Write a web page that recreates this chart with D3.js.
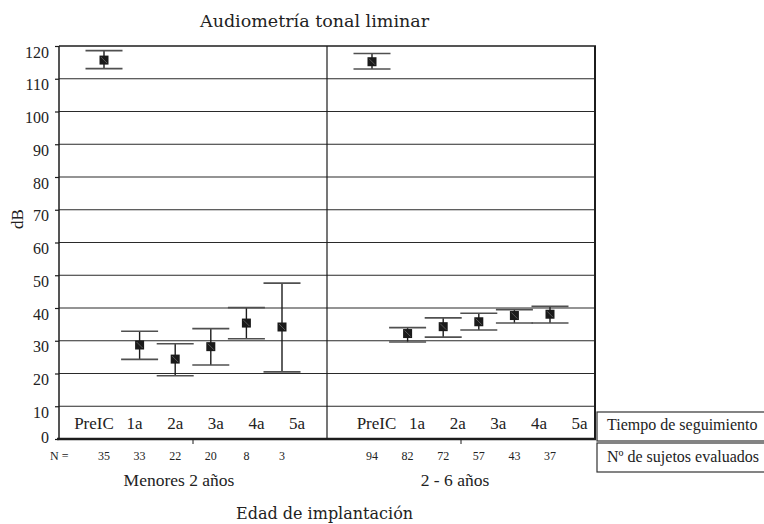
<!DOCTYPE html>
<html><head><meta charset="utf-8">
<script src="https://cdn.jsdelivr.net/npm/d3@7"></script>
<style>body{margin:0;background:#fff} svg{display:block}</style>
</head><body><svg id="c" width="764" height="524"></svg>
<script>
// ---------- data ----------
const categories = ["PreIC", "1a", "2a", "3a", "4a", "5a"];
const groups = ["Menores 2 años", "2 - 6 años"];
const meanMenores  = [115.7, 28.7, 24.4, 28.2, 35.4, 34.2];
const upperMenores = [118.6, 32.9, 29.1, 33.7, 40.1, 47.6];
const lowerMenores = [113.1, 24.3, 19.3, 22.6, 30.6, 20.5];
const nMenores     = [35, 33, 22, 20, 8, 3];
const meanMayores  = [115.2, 32.2, 34.3, 35.8, 37.7, 38.1];
const upperMayores = [117.7, 34.0, 37.0, 38.4, 39.5, 40.5];
const lowerMayores = [113.0, 29.6, 31.1, 33.3, 35.4, 35.4];
const nMayores     = [94, 82, 72, 57, 43, 37];
const yTicks = [0, 10, 20, 30, 40, 50, 60, 70, 80, 90, 100, 110, 120];
const titleText = "Audiometría tonal liminar";
const yLabel = "dB";
const xTitle = "Edad de implantación";
const nPrefix = "N =";
const legendLabels = ["Tiempo de seguimiento", "Nº de sujetos evaluados"];

const series = [
  {group: groups[0], mean: meanMenores, upper: upperMenores, lower: lowerMenores, n: nMenores},
  {group: groups[1], mean: meanMayores, upper: upperMayores, lower: lowerMayores, n: nMayores}
];

// ---------- layout ----------
const L = 59, R = 595, T = 46, B = 439;
const ink = "#1c1c1c";
const serif = "'Liberation Serif', 'Times New Roman', serif";
const wide = "'DejaVu Serif', serif";
const labelInset = [35, 49.5];
const labelSpan = 203;
const groupLabelShift = [-14, -6];

const svg = d3.select("#c");
const y = d3.scaleLinear().domain([0, 120]).range([B, T]);
const xg = d3.scaleBand().domain(groups).range([L, R]);
const xp = d3.scalePoint().domain(categories).range([45, 223]);
const xl = d3.scalePoint().domain(categories).range([0, labelSpan]);

// gridlines
svg.append("g").selectAll("line")
  .data(yTicks.filter(t => t > 0 && t < 120))
  .join("line")
  .attr("x1", L).attr("x2", R)
  .attr("y1", d => y(d)).attr("y2", d => y(d))
  .attr("stroke", "#2a2a2a").attr("stroke-width", 1.2);

// y axis
const yAxis = svg.append("g").attr("transform", `translate(${L},0)`)
  .call(d3.axisLeft(y).tickValues(yTicks).tickSizeInner(4).tickSizeOuter(0).tickPadding(6));
yAxis.select(".domain").remove();
yAxis.selectAll(".tick line").attr("stroke", ink).attr("stroke-width", 1.2);
yAxis.selectAll(".tick text")
  .attr("font-family", serif).attr("font-size", 16).attr("fill", "#222")
  .attr("dy", d => d === 0 ? "0.2em" : "0.7em");

// frame
svg.append("line").attr("x1", L).attr("x2", L).attr("y1", T).attr("y2", B)
  .attr("stroke", ink).attr("stroke-width", 1.5);
svg.append("line").attr("x1", L).attr("x2", R + 1).attr("y1", T).attr("y2", T)
  .attr("stroke", ink).attr("stroke-width", 1.6);
svg.append("line").attr("x1", R).attr("x2", R).attr("y1", T).attr("y2", B)
  .attr("stroke", ink).attr("stroke-width", 2);
svg.append("line").attr("x1", L - 2).attr("x2", R + 1).attr("y1", B).attr("y2", B)
  .attr("stroke", ink).attr("stroke-width", 2.6);
svg.append("line").attr("x1", xg(groups[1])).attr("x2", xg(groups[1]))
  .attr("y1", T).attr("y2", B).attr("stroke", ink).attr("stroke-width", 1.2);
svg.append("g").selectAll("line").data(groups).join("line")
  .attr("x1", d => xg(d) + xg.bandwidth() / 2).attr("x2", d => xg(d) + xg.bandwidth() / 2)
  .attr("y1", B).attr("y2", B + 5).attr("stroke", ink).attr("stroke-width", 1);

// title
svg.append("text").attr("x", 200).attr("y", 27).text(titleText)
  .attr("font-family", wide).attr("font-size", 17.5).attr("fill", "#222");
// y label
svg.append("text").attr("transform", `translate(23,219) rotate(-90)`)
  .attr("text-anchor", "middle").text(yLabel)
  .attr("font-family", serif).attr("font-size", 17).attr("fill", "#222");

series.forEach((s, gi) => {
  const g = svg.append("g");
  const gx = xg(s.group);
  g.append("g").selectAll("text").data(categories).join("text")
    .attr("x", d => gx + labelInset[gi] + xl(d)).attr("y", 429)
    .attr("text-anchor", "middle").text(d => d)
    .attr("font-family", serif).attr("font-size", 17).attr("fill", "#222");
  const pts = categories.map((c, i) => ({c, m: s.mean[i], u: s.upper[i], l: s.lower[i], n: s.n[i]}));
  g.append("g").selectAll("line").data(pts).join("line")
    .attr("x1", d => gx + xp(d.c)).attr("x2", d => gx + xp(d.c))
    .attr("y1", d => y(d.u)).attr("y2", d => y(d.l))
    .attr("stroke", ink).attr("stroke-width", 1.4);
  ["u", "l"].forEach(k => {
    g.append("g").selectAll("line").data(pts).join("line")
      .attr("x1", d => gx + xp(d.c) - 18.5).attr("x2", d => gx + xp(d.c) + 18.5)
      .attr("y1", d => y(d[k])).attr("y2", d => y(d[k]))
      .attr("stroke", "#505050").attr("stroke-width", 1.6);
  });
  g.append("g").selectAll("rect").data(pts).join("rect")
    .attr("x", d => gx + xp(d.c) - 4.5).attr("y", d => y(d.m) - 4.5)
    .attr("width", 9).attr("height", 9).attr("fill", "#1a1a1a");
  g.append("g").selectAll("line").data(pts).join("line")
    .attr("x1", d => gx + xp(d.c) - 3).attr("x2", d => gx + xp(d.c) + 3)
    .attr("y1", d => y(d.m) - 3).attr("y2", d => y(d.m) + 3)
    .attr("stroke", "#666").attr("stroke-width", 0.8);
  g.append("g").selectAll("text").data(pts).join("text")
    .attr("x", d => gx + xp(d.c)).attr("y", 460).attr("text-anchor", "middle")
    .text(d => d.n)
    .attr("font-family", serif).attr("font-size", 12).attr("fill", "#222");
  g.append("text").attr("x", gx + xg.bandwidth() / 2 + groupLabelShift[gi]).attr("y", 486)
    .attr("text-anchor", "middle").text(s.group)
    .attr("font-family", serif).attr("font-size", 17.5).attr("fill", "#222");
});

svg.append("text").attr("x", 50).attr("y", 460).text(nPrefix)
  .attr("font-family", serif).attr("font-size", 12).attr("fill", "#222");

svg.append("text").attr("x", 236).attr("y", 519).text(xTitle)
  .attr("font-family", wide).attr("font-size", 16).attr("fill", "#222");

const lg = svg.append("g");
lg.selectAll("rect").data(legendLabels).join("rect")
  .attr("x", 597).attr("y", (d, i) => 412 + i * 31).attr("width", 200).attr("height", 29)
  .attr("fill", "none").attr("stroke", "#333").attr("stroke-width", 1.2);
lg.selectAll("text").data(legendLabels).join("text")
  .attr("x", 607).attr("y", (d, i) => 429.5 + i * 32.5).text(d => d)
  .attr("font-family", serif).attr("font-size", 16).attr("fill", "#222");
</script>
</body></html>
